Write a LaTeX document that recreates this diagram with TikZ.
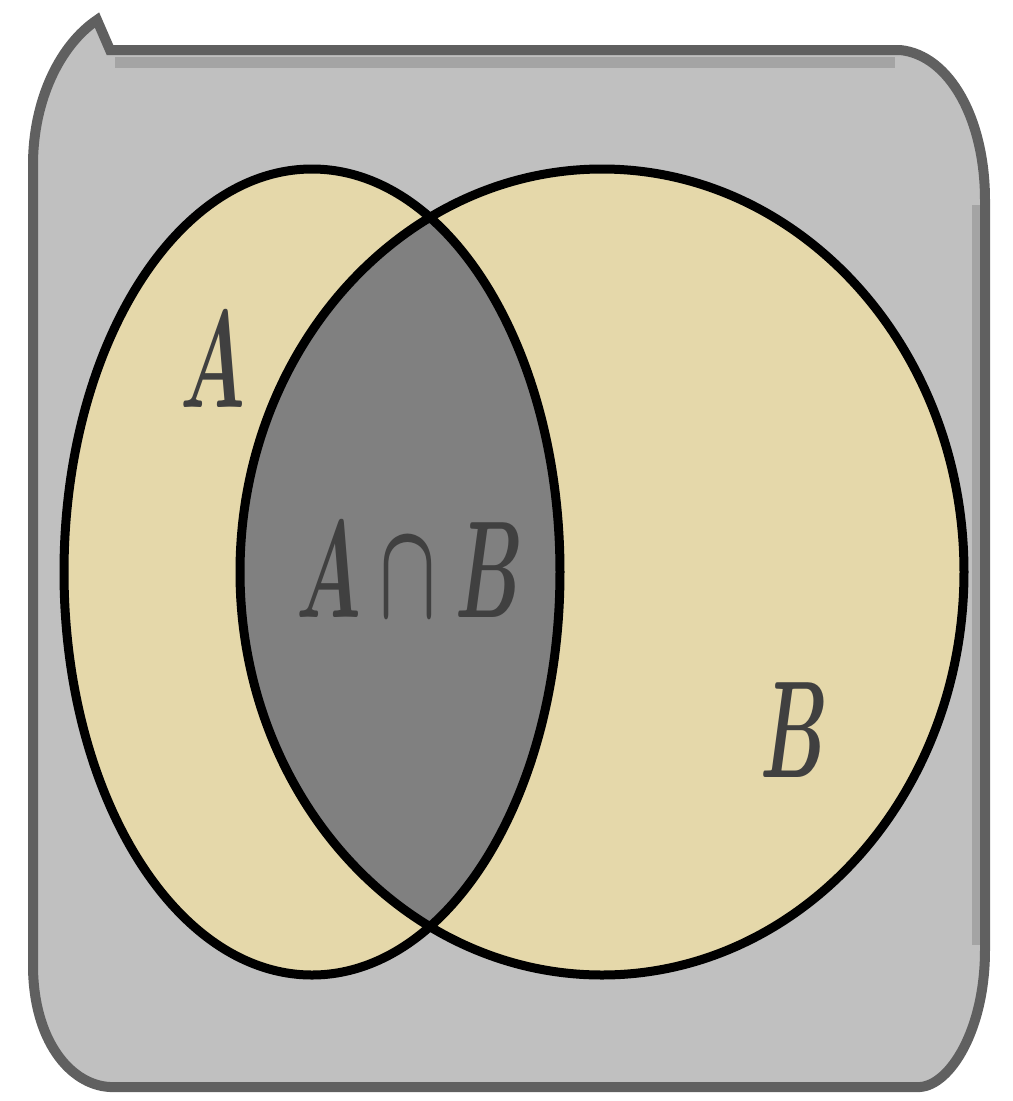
\documentclass[tikz,border=0pt]{standalone}
\usepackage{amsmath}
\usepackage{graphicx}
\definecolor{framegray}{HTML}{C0C0C0}
\definecolor{edgegray}{HTML}{606060}
\definecolor{bandgray}{HTML}{A4A4A4}
\definecolor{setfill}{HTML}{E5D8AA}
\definecolor{lensgray}{HTML}{808080}
\tikzset{
  setline/.style={draw=black, line width=0.9mm},
  setlabel/.style={font=\fontsize{24.88}{28}\selectfont, text=black!75},
}
\newcommand{\narrowmath}[1]{\scalebox{0.85}[1.58]{$\boldsymbol{#1}$}}
\begin{document}
\begin{tikzpicture}[x=0.1mm,y=-0.1mm]
    \useasboundingbox (0,0) rectangle (1013,1101);
    % universe
    \draw[fill=framegray, draw=edgegray, line width=1mm]
        (97,20) -- (110,50) -- (900,50) .. controls (950,55) and (985,120) .. (985,200)
        -- (985,950) .. controls (985,1030) and (950,1085) .. (920,1087)
        -- (110,1087) .. controls (70,1085) and (33,1040) .. (33,965)
        -- (33,165) .. controls (33,100) and (60,45) .. (97,20) -- cycle;
    \draw[bandgray, line width=1.1mm] (115,62) -- (895,62);
    \draw[bandgray, line width=0.8mm] (976,205) -- (976,945);
    % sets
    \coordinate (cA) at (312,572);
    \coordinate (cB) at (602,572);
    \fill[setfill] (cA) ellipse [x radius=248, y radius=403];
    \fill[setfill] (cB) ellipse [x radius=362, y radius=403];
    \begin{scope}
        \clip (cA) ellipse [x radius=248, y radius=403];
        \fill[lensgray] (cB) ellipse [x radius=362, y radius=403];
    \end{scope}
    \draw[setline] (cA) ellipse [x radius=248, y radius=403];
    \draw[setline] (cB) ellipse [x radius=362, y radius=403];
    % labels
    \node[setlabel] (labA) at (213,360) {\narrowmath{A}};
    \node[setlabel] (labAB) at (410,570) {\narrowmath{A\cap B}};
    \node[setlabel] (labB) at (794,730) {\narrowmath{B}};
\end{tikzpicture}
\end{document}
